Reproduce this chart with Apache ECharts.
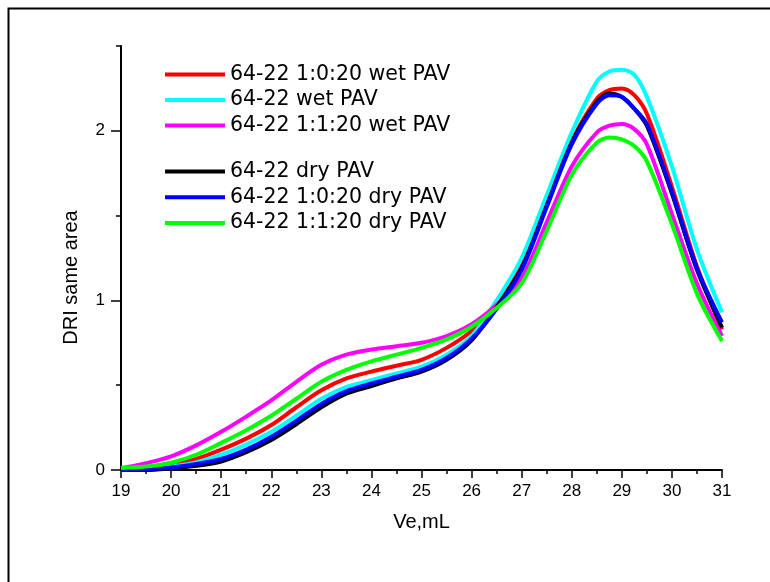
<!DOCTYPE html>
<html>
<head>
<meta charset="utf-8">
<script src="https://cdn.jsdelivr.net/npm/echarts@6/dist/echarts.min.js"></script>
<style>html,body{margin:0;padding:0;background:#fff}#c{width:770px;height:582px}</style>
</head>
<body>
<div id="c"></div>
<script>
var xValues = [19,19.5,20,20.5,21,21.5,22,22.5,23,23.5,24,24.5,25,25.5,26,26.5,27,27.5,28,28.5,28.75,29,29.25,29.5,30,30.5,31];
var wet1020 = [0.0,0.01,0.03,0.065,0.12,0.185,0.265,0.37,0.47,0.54,0.58,0.615,0.65,0.72,0.82,0.97,1.21,1.58,1.94,2.19,2.24,2.25,2.21,2.10,1.67,1.20,0.83];
var wetPAV = [0.0,0.005,0.02,0.045,0.09,0.15,0.225,0.32,0.42,0.49,0.53,0.57,0.61,0.68,0.79,1.0,1.25,1.62,1.99,2.29,2.35,2.36,2.33,2.20,1.79,1.30,0.93];
var wet1120 = [0.01,0.04,0.08,0.145,0.225,0.315,0.41,0.52,0.62,0.68,0.71,0.73,0.75,0.79,0.86,0.975,1.13,1.46,1.79,1.99,2.03,2.04,2.01,1.92,1.51,1.10,0.79];
var dryPAV = [0.0,0.0,0.01,0.025,0.05,0.105,0.177,0.27,0.37,0.45,0.495,0.54,0.58,0.65,0.765,0.96,1.19,1.56,1.93,2.17,2.22,2.20,2.13,2.03,1.63,1.18,0.84];
var dry1020 = [0.0,0.005,0.015,0.035,0.065,0.12,0.196,0.29,0.39,0.465,0.51,0.55,0.59,0.66,0.775,0.95,1.18,1.55,1.92,2.16,2.21,2.20,2.13,2.04,1.64,1.19,0.87];
var dry1120 = [0.012,0.02,0.043,0.09,0.16,0.235,0.32,0.42,0.52,0.59,0.64,0.68,0.72,0.77,0.845,0.955,1.10,1.41,1.74,1.93,1.96,1.95,1.91,1.82,1.45,1.04,0.76];

var seriesNames = ['64-22 1:0:20 wet PAV','64-22 wet PAV','64-22 1:1:20 wet PAV','64-22 dry PAV','64-22 1:0:20 dry PAV','64-22 1:1:20 dry PAV'];
var seriesValues = [wet1020, wetPAV, wet1120, dryPAV, dry1020, dry1120];
var seriesColors = ['#ff0000','#00ffff','#ff00ff','#000000','#0000ff','#00ff00'];
var yMajorTicks = [0,1,2];
var yMinorTicks = [0.5,1.5,2.5];

function pairs(ys){ return xValues.map(function(x,i){ return [x, ys[i]]; }); }

var chart = echarts.init(document.getElementById('c'), null, {renderer:'canvas'});
var legendText = {fontFamily:'DejaVu Sans', fontSize:20.5, color:'#000', lineHeight:20};
chart.setOption({
  animation:false,
  backgroundColor:'#fff',
  graphic:[{type:'rect', left:6, top:6, shape:{width:900, height:700}, style:{fill:null, stroke:'#000', lineWidth:2}, silent:true}],
  grid:{left:121, right:48, top:46, bottom:112, containLabel:false},
  legend:[
    {orient:'vertical', left:165, top:64, padding:0, itemWidth:60, itemHeight:4, itemGap:4.5, icon:'rect', textStyle:legendText, data:seriesNames.slice(0,3)},
    {orient:'vertical', left:165, top:161, padding:0, itemWidth:60, itemHeight:4, itemGap:4.8, icon:'rect', textStyle:legendText, data:seriesNames.slice(3)}
  ],
  xAxis:{
    type:'value', min:19, max:31, interval:1,
    name:'Ve,mL', nameLocation:'middle', nameGap:42,
    nameTextStyle:{fontFamily:'Liberation Sans', fontSize:20, color:'#000'},
    axisLine:{show:true, lineStyle:{color:'#000', width:2}},
    axisTick:{show:true, length:8, lineStyle:{color:'#000', width:1.5}},
    minorTick:{show:true, splitNumber:2, length:4, lineStyle:{color:'#000', width:1.5}},
    axisLabel:{fontFamily:'Liberation Sans', fontSize:17, color:'#000', margin:13},
    splitLine:{show:false}
  },
  yAxis:[{
    type:'value', min:0, max:2.5, interval:0.5,
    name:'DRI same area', nameLocation:'middle', nameGap:40,
    nameTextStyle:{fontFamily:'Liberation Sans', fontSize:20, color:'#000', padding:[0,39,0,0]},
    axisLine:{show:true, lineStyle:{color:'#000', width:2}},
    axisTick:{show:true, length:10, customValues:yMajorTicks, lineStyle:{color:'#000', width:1.5}},
    axisLabel:{fontFamily:'Liberation Sans', fontSize:17, color:'#000', margin:16, customValues:yMajorTicks},
    splitLine:{show:false}
  },{
    type:'value', min:0, max:2.5, interval:0.5, position:'left',
    axisLine:{show:false},
    axisTick:{show:true, length:5, customValues:yMinorTicks, lineStyle:{color:'#000', width:1.5}},
    axisLabel:{show:false},
    splitLine:{show:false}
  }],
  series: seriesNames.map(function(n,i){
    return {name:n, type:'line', yAxisIndex:0, data:pairs(seriesValues[i]), smooth:0.3,
      showSymbol:false, symbol:'none', color:seriesColors[i],
      lineStyle:{color:seriesColors[i], width:4}, clip:true};
  })
});
</script>
</body>
</html>
